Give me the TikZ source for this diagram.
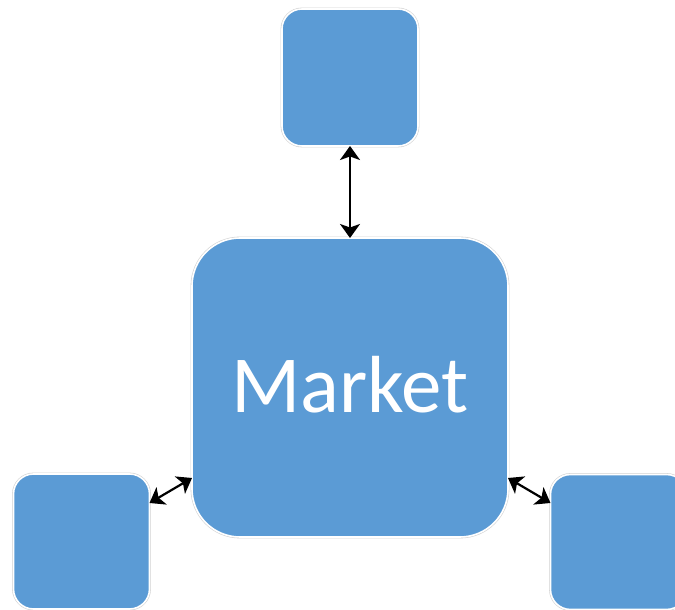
\documentclass[tikz,border=0pt]{standalone}
\usepackage{fontspec}
\setmainfont{Carlito}
\usetikzlibrary{arrows.meta}
\definecolor{officeblue}{HTML}{5B9BD5}
\tikzset{
  box/.style={fill=officeblue, draw=white, line width=1.6pt,
    preaction={draw=gray!35, line width=2.8pt},
    inner sep=0pt, outer sep=0pt},
  link/.style={line width=2.2pt, {Stealth[length=14pt,width=20pt,inset=3.5pt]}-{Stealth[length=14pt,width=20pt,inset=3.5pt]}}
}
\begin{document}
\begin{tikzpicture}[x=1pt,y=1pt]
\useasboundingbox (0,0) rectangle (675,610);
\node[box, rounded corners=20pt, minimum width=136pt, minimum height=137pt] (top) at (350,532.5) {};
\node[box, rounded corners=48pt, minimum width=316pt, minimum height=299pt] (mk) at (350,222.5) {};
\node[font=\fontsize{81}{81}\selectfont, text=white] at (350,225) {Market};
\node[box, rounded corners=20pt, minimum width=136pt, minimum height=135pt] (bl) at (81.5,68.5) {};
\node[box, rounded corners=20pt, minimum width=136pt, minimum height=135pt] (br) at (618.5,68) {};
\draw[link] (top.south) -- (mk.north);
\draw[link] ([yshift=38.5pt]bl.east) -- ([yshift=-90.5pt]mk.west);
\draw[link] ([yshift=-90.5pt]mk.east) -- ([yshift=39pt]br.west);
\end{tikzpicture}
\end{document}
